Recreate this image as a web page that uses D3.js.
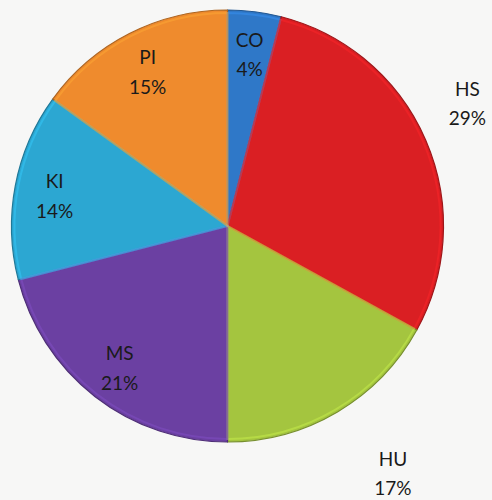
<!DOCTYPE html>
<html>
<head>
<meta charset="utf-8">
<script src="https://cdn.jsdelivr.net/npm/d3@7"></script>
<style>
  html, body { margin: 0; padding: 0; background: #f7f7f6; }
  svg { display: block; }
</style>
</head>
<body>
<svg id="chart" width="492" height="500"></svg>
<script>
// slice data, clockwise from 12 o'clock
const categories = ["CO", "HS", "HU", "MS", "KI", "PI"];
const shares = [4, 29, 17, 21, 14, 15];
const colors = ["#2f78c8", "#da1f23", "#a4c53f", "#6b40a2", "#2ca7d2", "#ef8b2d"];

// which labels sit outside the pie (Excel best-fit), with a small nudge
const outside = { HS: [-8, -18], HU: [28, 12] };

const svg = d3.select("#chart");

const cx = 227.5, cy = 226;
const radius = 216;

const g = svg.append("g")
  .attr("transform", `translate(${cx},${cy})`);

const data = categories.map((c, i) => ({ name: c, value: shares[i], color: colors[i] }));

const pie = d3.pie().value(d => d.value).sort(null);
const arc = d3.arc().innerRadius(0).outerRadius(radius);
const innerLabelArc = d3.arc().innerRadius(radius * 0.815).outerRadius(radius * 0.815);
const outerLabelArc = d3.arc().innerRadius(radius * 1.25).outerRadius(radius * 1.25);

const arcs = pie(data);

// slices
g.selectAll("path.slice")
  .data(arcs)
  .enter()
  .append("path")
  .attr("class", "slice")
  .attr("d", arc)
  .attr("fill", d => d.data.color)
  .attr("stroke", d => d3.color(d.data.color).darker(0.9))
  .attr("stroke-width", 1.2)
  .attr("stroke-linejoin", "round");

// soft highlight along the slice edges for the bevelled look
const bevel = d3.arc().innerRadius(0).outerRadius(radius - 3);
g.selectAll("path.bevel")
  .data(arcs)
  .enter()
  .append("path")
  .attr("class", "bevel")
  .attr("d", bevel)
  .attr("fill", "none")
  .attr("stroke", d => d3.color(d.data.color).brighter(0.6))
  .attr("stroke-opacity", 0.45)
  .attr("stroke-width", 2);

// labels
const labels = g.selectAll("text.label")
  .data(arcs)
  .enter()
  .append("text")
  .attr("class", "label")
  .attr("transform", d => {
    const nudge = outside[d.data.name];
    if (nudge) {
      const [x, y] = outerLabelArc.centroid(d);
      return `translate(${x + nudge[0]},${y + nudge[1]})`;
    }
    const [x, y] = innerLabelArc.centroid(d);
    return `translate(${x},${y})`;
  })
  .attr("text-anchor", "middle")
  .style("font-family", "Lato, 'Open Sans', sans-serif")
  .style("font-size", "19px")
  .style("fill", "#1a1a1a");

labels.append("tspan")
  .attr("x", 0)
  .attr("dy", "-0.25em")
  .text(d => d.data.name);

labels.append("tspan")
  .attr("x", 0)
  .attr("dy", "1.55em")
  .text(d => d.data.value + "%");
</script>
</body>
</html>
